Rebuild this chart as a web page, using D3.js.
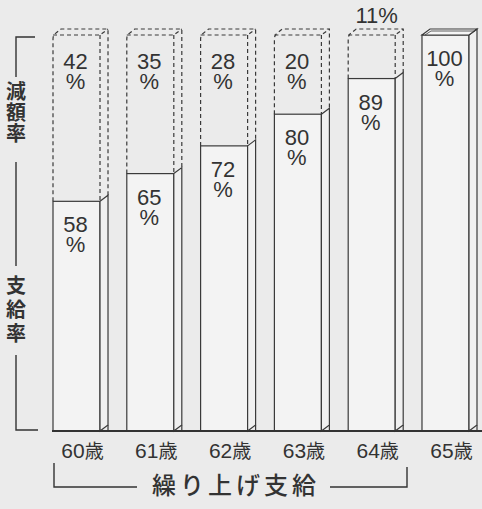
<!DOCTYPE html>
<html><head><meta charset="utf-8">
<script src="https://cdn.jsdelivr.net/npm/d3@7"></script>
<style>
html,body{margin:0;padding:0;background:#ebebeb;}
svg{display:block;}
text{fill:#333;}
</style></head>
<body>
<svg id="c" width="482" height="509"></svg>
<script>
const categories = ["60歳","61歳","62歳","63歳","64歳","65歳"];
const payRate = [58,65,72,80,89,100];
const reductionRate = [42,35,28,20,11,0];
const sideLabelTop = "減額率";
const sideLabelBottom = "支給率";
const bracketLabel = "繰り上げ支給";

const svg = d3.select("#c");
const W = 482, H = 509;
const base = 431, topY = 35;
const y = d3.scaleLinear().domain([0,100]).range([base, topY]);
const x = d3.scaleBand().domain(categories).range([53,469]).paddingInner(0.363).paddingOuter(0);
const bw = x.bandwidth();
const dx = 8, dy = 6;
const ink = "#3a3a3a";
const numFont = "'Liberation Sans', Arial, sans-serif";
const cjkFont = "'Noto Sans CJK JP', 'Liberation Sans', sans-serif";

const data = categories.map((c,i)=>({c, pay:payRate[i], red:reductionRate[i]}));

const g = svg.append("g");

data.forEach(d => {
  const l = x(d.c), r = l + bw;
  const vy = y(d.pay), ty = y(100);
  const bar = g.append("g");
  bar.append("rect").attr("x", l).attr("y", vy).attr("width", bw).attr("height", base - vy)
    .attr("fill", "#f3f3f3").attr("stroke", ink).attr("stroke-width", 1.2);
  bar.append("path").attr("d", `M${r},${vy}L${r+dx},${vy-dy}L${r+dx},${base-dy}L${r},${base}Z`)
    .attr("fill", "#f0f0f0").attr("stroke", ink).attr("stroke-width", 1.2);
  bar.append("line").attr("x1", r+dx).attr("x2", r+dx).attr("y1", base-dy).attr("y2", base)
    .attr("stroke", ink).attr("stroke-width", 1.2);
  if (d.red === 0) {
    bar.append("path").attr("d", `M${l},${vy}L${l+dx},${vy-dy}L${r+dx},${vy-dy}L${r},${vy}Z`)
      .attr("fill", "#f6f6f6").attr("stroke", ink).attr("stroke-width", 1.2);
    bar.append("path").attr("d", `M${l+3},${vy}L${l+dx+1},${vy-dy+2}L${r+dx-2},${vy-dy+2}`)
      .attr("fill", "none").attr("stroke", ink).attr("stroke-width", 0.8);
  } else {
    const dash = "4,3";
    const p = d3.path();
    p.moveTo(l, vy); p.lineTo(l, ty+4); p.quadraticCurveTo(l, ty, l+3, ty-2); p.lineTo(l+dx, ty-dy);
    p.lineTo(r+dx, ty-dy); p.lineTo(r+dx, vy-dy);
    bar.append("path").attr("d", p.toString()).attr("fill","none").attr("stroke", ink)
      .attr("stroke-width", 1.2).attr("stroke-dasharray", dash);
    const p2 = d3.path();
    p2.moveTo(l, ty); p2.lineTo(r, ty); p2.lineTo(r+dx, ty-dy);
    p2.moveTo(r, ty); p2.lineTo(r, vy);
    bar.append("path").attr("d", p2.toString()).attr("fill","none").attr("stroke", ink)
      .attr("stroke-width", 1.2).attr("stroke-dasharray", dash);
  }
  const cx = l + bw/2 - 1;
  const pl = bar.append("text").attr("text-anchor","middle").attr("font-family", numFont)
    .attr("font-size", 22);
  pl.append("tspan").attr("x", cx).attr("y", vy + 31).text(d.pay);
  pl.append("tspan").attr("x", cx).attr("y", vy + 51).text("%");
  if (d.red > 0) {
    if (vy - ty > 55) {
      const rl = bar.append("text").attr("text-anchor","middle").attr("font-family", numFont)
        .attr("font-size", 22);
      rl.append("tspan").attr("x", cx).attr("y", ty + 34).text(d.red);
      rl.append("tspan").attr("x", cx).attr("y", ty + 54).text("%");
    } else {
      bar.append("text").attr("text-anchor","middle").attr("font-family", numFont)
        .attr("font-size", 22).attr("x", l + (bw+dx)/2 + 1).attr("y", ty - 12).text(d.red + "%");
    }
  }
});

// baseline axis
const axis = d3.axisBottom(x).tickSize(0).tickPadding(0);
const ax = svg.append("g").attr("transform", `translate(0,${base})`).call(axis);
ax.attr("font-size", null).attr("font-family", null);
ax.select(".domain").remove();
ax.append("line").attr("x1", 52).attr("x2", W).attr("y1", 0).attr("y2", 0)
  .attr("stroke", "#333").attr("stroke-width", 2);
ax.selectAll(".tick text").attr("font-family", cjkFont)
  .style("font-size", "21px")
  .attr("fill", "#333").attr("dy", 0).attr("y", 27)
  .attr("dx", (dx/2) + 2);
ax.selectAll(".tick text").each(function(){
  const t = d3.select(this); const s = t.text(); t.text(null);
  t.append("tspan").style("font-family", numFont).style("font-size","21px").text(s.slice(0,2));
  t.append("tspan").style("font-family", cjkFont).style("font-size", "19px").text(s.slice(2));
});

// left bracket
const lb = svg.append("g").attr("stroke", "#333").attr("stroke-width", 1.4).attr("fill","none");
lb.append("path").attr("d", "M35,37H16V77");
lb.append("path").attr("d", "M16,162V266");
lb.append("path").attr("d", "M16,355V430H38");
svg.append("text").attr("x", 16).attr("y", 81).attr("font-family", cjkFont).attr("font-size", 20)
  .attr("font-weight", 700).style("writing-mode", "vertical-rl").style("letter-spacing", "1px")
  .text(sideLabelTop);
svg.append("text").attr("x", 16).attr("y", 275).attr("font-family", cjkFont).attr("font-size", 20)
  .attr("font-weight", 700).style("writing-mode", "vertical-rl").style("letter-spacing", "4px")
  .text(sideLabelBottom);

// bottom bracket
const bb = svg.append("g").attr("stroke", "#333").attr("stroke-width", 1.4).attr("fill","none");
bb.append("path").attr("d", "M54,463V487H137");
bb.append("path").attr("d", "M330,487H407V467");
svg.append("text").attr("x", 152).attr("y", 494).attr("font-family", cjkFont)
  .attr("font-size", 24).attr("font-weight", 500).attr("letter-spacing", 4).text(bracketLabel);
</script>
</body></html>
